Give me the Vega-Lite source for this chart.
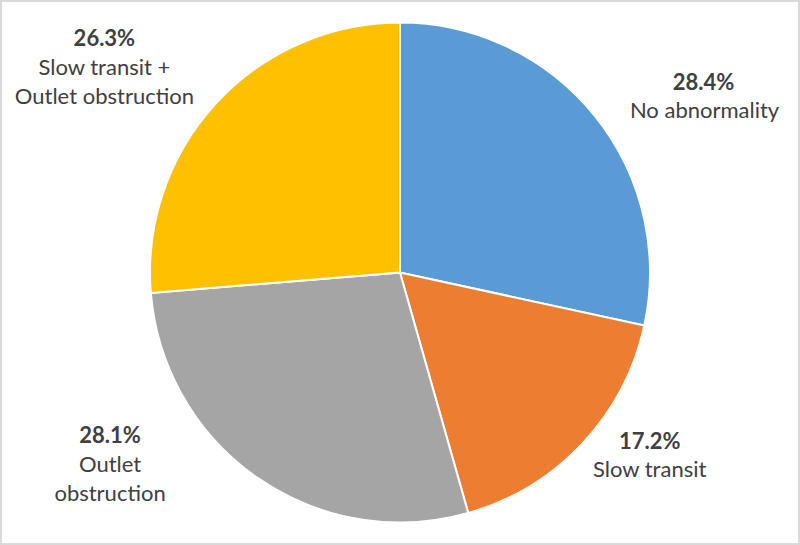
{
  "$schema": "https://vega.github.io/schema/vega-lite/v6.json",
  "width": 800,
  "height": 545,
  "padding": 0,
  "autosize": "none",
  "background": "white",
  "config": {"view": {"stroke": null}},
  "data": {
    "values": [
      {"idx": 1, "category": "No abnormality", "value": 28.4, "pct": "28.4%", "name": "No abnormality"},
      {"idx": 2, "category": "Slow transit", "value": 17.2, "pct": "17.2%", "name": "Slow transit"},
      {"idx": 3, "category": "Outlet obstruction", "value": 28.1, "pct": "28.1%", "name": "Outlet\nobstruction"},
      {"idx": 4, "category": "Slow transit + Outlet obstruction", "value": 26.3, "pct": "26.3%", "name": "Slow transit +\nOutlet obstruction"}
    ]
  },
  "layer": [
    {
      "mark": {"type": "rect", "fill": null, "stroke": "#d9d9d9", "strokeWidth": 3},
      "encoding": {}
    },
    {
      "mark": {"type": "arc", "outerRadius": 250, "stroke": "white", "strokeWidth": 2},
      "encoding": {
        "theta": {"field": "value", "type": "quantitative", "stack": true},
        "order": {"field": "idx", "type": "quantitative", "sort": "ascending"},
        "color": {
          "field": "category", "type": "nominal", "legend": null,
          "scale": {
            "domain": ["No abnormality", "Slow transit", "Outlet obstruction", "Slow transit + Outlet obstruction"],
            "range": ["#5B9BD5", "#ED7D31", "#A5A5A5", "#FFC000"]
          }
        }
      }
    },
    {
      "mark": {"type": "text", "radius": 300, "font": "Lato", "fontSize": 22, "fontWeight": "bold", "color": "#404040", "baseline": "alphabetic", "align": "center", "dx": 70, "dy": 6},
      "encoding": {
        "theta": {"field": "value", "type": "quantitative", "stack": true},
        "order": {"field": "idx", "type": "quantitative", "sort": "ascending"},
        "text": {"condition": {"test": "datum.idx == 1", "field": "pct"}, "value": ""}
      }
    },
    {
      "mark": {"type": "text", "radius": 300, "font": "Lato", "fontSize": 22, "color": "#404040", "baseline": "alphabetic", "align": "center", "lineBreak": "\n", "lineHeight": 29, "dx": 71, "dy": 34},
      "encoding": {
        "theta": {"field": "value", "type": "quantitative", "stack": true},
        "order": {"field": "idx", "type": "quantitative", "sort": "ascending"},
        "text": {"condition": {"test": "datum.idx == 1", "field": "name"}, "value": ""}
      }
    },
    {
      "mark": {"type": "text", "radius": 300, "font": "Lato", "fontSize": 22, "fontWeight": "bold", "color": "#404040", "baseline": "alphabetic", "align": "center", "dx": 31, "dy": -29},
      "encoding": {
        "theta": {"field": "value", "type": "quantitative", "stack": true},
        "order": {"field": "idx", "type": "quantitative", "sort": "ascending"},
        "text": {"condition": {"test": "datum.idx == 2", "field": "pct"}, "value": ""}
      }
    },
    {
      "mark": {"type": "text", "radius": 300, "font": "Lato", "fontSize": 22, "color": "#404040", "baseline": "alphabetic", "align": "center", "lineBreak": "\n", "lineHeight": 29, "dx": 31, "dy": -1},
      "encoding": {
        "theta": {"field": "value", "type": "quantitative", "stack": true},
        "order": {"field": "idx", "type": "quantitative", "sort": "ascending"},
        "text": {"condition": {"test": "datum.idx == 2", "field": "name"}, "value": ""}
      }
    },
    {
      "mark": {"type": "text", "radius": 300, "font": "Lato", "fontSize": 22, "fontWeight": "bold", "color": "#404040", "baseline": "alphabetic", "align": "center", "dx": -119, "dy": -76},
      "encoding": {
        "theta": {"field": "value", "type": "quantitative", "stack": true},
        "order": {"field": "idx", "type": "quantitative", "sort": "ascending"},
        "text": {"condition": {"test": "datum.idx == 3", "field": "pct"}, "value": ""}
      }
    },
    {
      "mark": {"type": "text", "radius": 300, "font": "Lato", "fontSize": 22, "color": "#404040", "baseline": "alphabetic", "align": "center", "lineBreak": "\n", "lineHeight": 29, "dx": -119, "dy": -47},
      "encoding": {
        "theta": {"field": "value", "type": "quantitative", "stack": true},
        "order": {"field": "idx", "type": "quantitative", "sort": "ascending"},
        "text": {"condition": {"test": "datum.idx == 3", "field": "name"}, "value": ""}
      }
    },
    {
      "mark": {"type": "text", "radius": 300, "font": "Lato", "fontSize": 22, "fontWeight": "bold", "color": "#404040", "baseline": "alphabetic", "align": "center", "dx": -75, "dy": -23},
      "encoding": {
        "theta": {"field": "value", "type": "quantitative", "stack": true},
        "order": {"field": "idx", "type": "quantitative", "sort": "ascending"},
        "text": {"condition": {"test": "datum.idx == 4", "field": "pct"}, "value": ""}
      }
    },
    {
      "mark": {"type": "text", "radius": 300, "font": "Lato", "fontSize": 22, "color": "#404040", "baseline": "alphabetic", "align": "center", "lineBreak": "\n", "lineHeight": 29, "dx": -75, "dy": 6},
      "encoding": {
        "theta": {"field": "value", "type": "quantitative", "stack": true},
        "order": {"field": "idx", "type": "quantitative", "sort": "ascending"},
        "text": {"condition": {"test": "datum.idx == 4", "field": "name"}, "value": ""}
      }
    }
  ]
}
